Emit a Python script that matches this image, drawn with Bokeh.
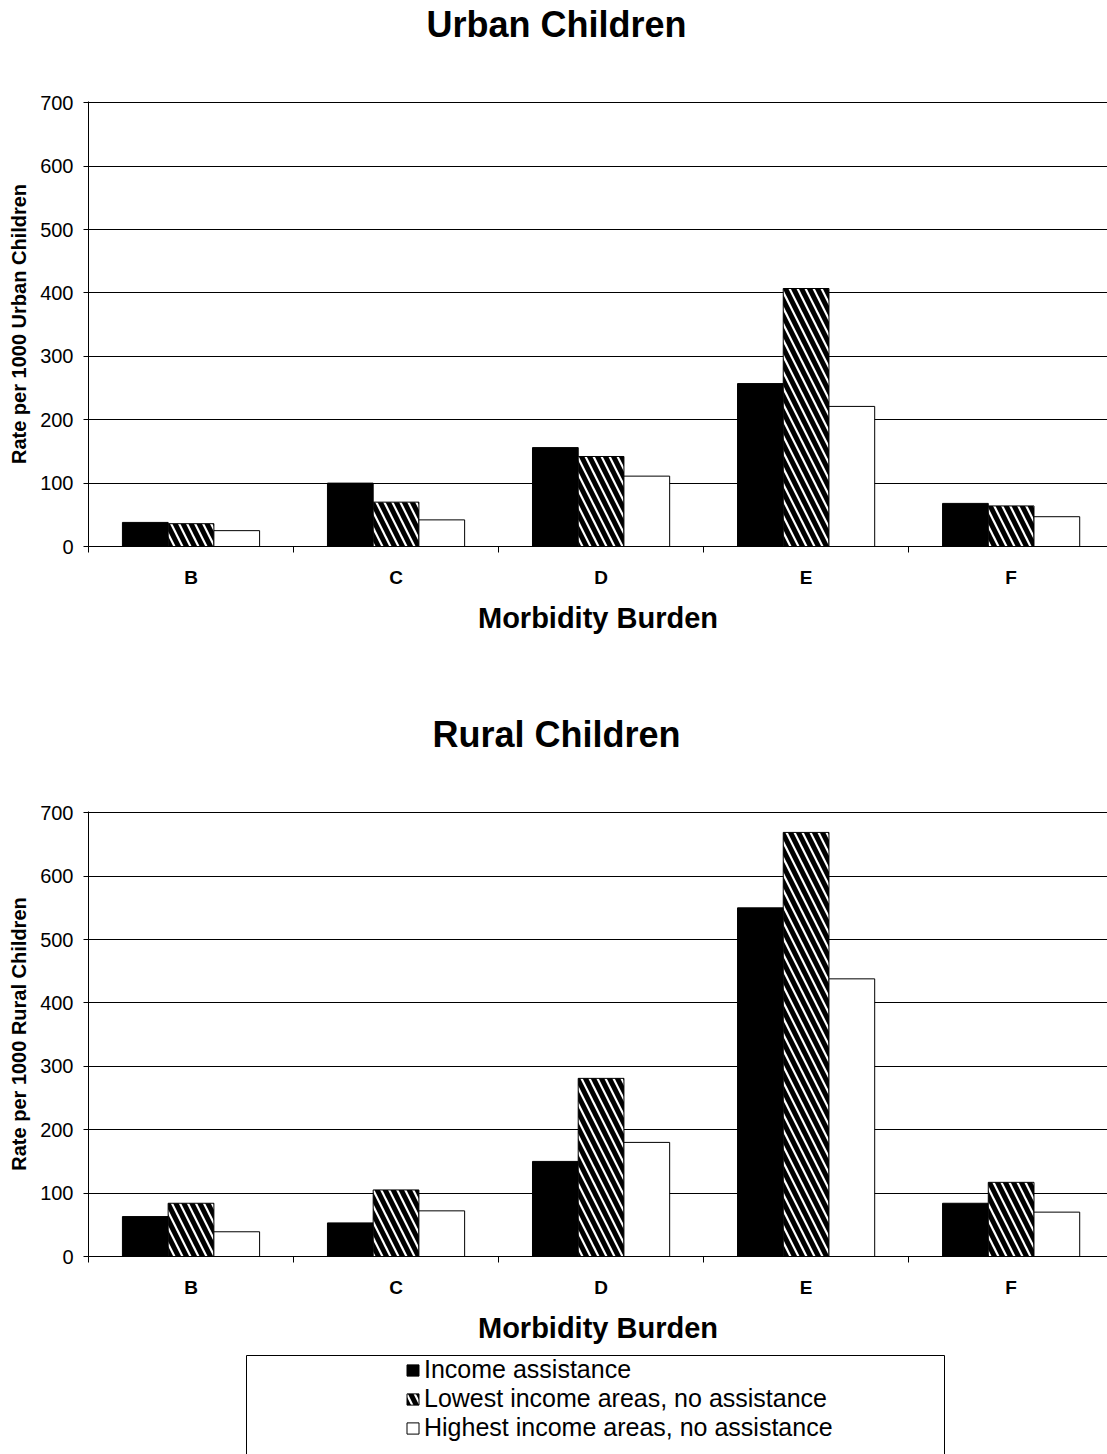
from bokeh.plotting import figure
from bokeh.models import Range1d, FixedTicker, Legend, LegendItem, ColumnDataSource, Spacer
from bokeh.layouts import column, row
from bokeh.embed import file_html
from bokeh.resources import INLINE

# ---------------- data ----------------
categories = ["B", "C", "D", "E", "F"]
series_names = [
    "Income assistance",
    "Lowest income areas, no assistance",
    "Highest income areas, no assistance",
]
urban_income_assistance = [38, 100, 156, 257, 68]
urban_lowest_income = [36, 70, 142, 407, 64]
urban_highest_income = [25, 42, 111, 221, 47]
rural_income_assistance = [63, 53, 150, 550, 84]
rural_lowest_income = [84, 105, 281, 669, 117]
rural_highest_income = [39, 72, 180, 438, 70]
y_ticks = [0, 100, 200, 300, 400, 500, 600, 700]
x_axis_title = "Morbidity Burden"

FONT = "Liberation Sans"
W = 1107
BAR_W = 0.223
OFFSETS = [-BAR_W, 0.0, BAR_W]
STYLES = [
    dict(fill_color="black", line_color="black", line_width=1),
    dict(fill_color="white", line_color="black", line_width=1,
         hatch_pattern="left_diagonal_line", hatch_color="black",
         hatch_weight=5, hatch_scale=16),
    dict(fill_color="white", line_color="black", line_width=1),
]


def make_title(text, height, offset):
    t = figure(width=W, height=height, x_range=Range1d(0, 1), y_range=Range1d(0, 1),
               x_axis_type=None, y_axis_type=None, output_backend="svg",
               toolbar_location=None, min_border=0, title=text)
    t.outline_line_color = None
    t.border_fill_color = "white"
    t.background_fill_color = "white"
    t.title.align = "left"
    t.title.offset = offset
    t.title.vertical_align = "middle"
    t.title.text_font = FONT
    t.title.text_font_style = "bold"
    t.title.text_font_size = "36px"
    t.title.text_color = "black"
    t.title.standoff = 5
    return t


def make_chart(ylabel, series, height, top, bottom):
    p = figure(width=W, height=height,
               x_range=Range1d(0, 4.97), y_range=Range1d(0, 702),
               output_backend="svg", toolbar_location=None,
               min_border_left=88, min_border_right=0,
               min_border_top=top, min_border_bottom=bottom)
    p.outline_line_color = None
    p.background_fill_color = "white"
    p.border_fill_color = "white"

    for vals, off, st in zip(series, OFFSETS, STYLES):
        src = ColumnDataSource(dict(
            x=[i + 0.5 + off for i in range(len(categories))],
            top=vals))
        p.vbar(x="x", top="top", width=BAR_W, bottom=0, source=src, **st)

    # x axis: labels at category centres, ticks at category boundaries
    xa = p.xaxis[0]
    xa.ticker = FixedTicker(ticks=[i + 0.5 for i in range(len(categories))],
                            minor_ticks=list(range(len(categories) + 1)))
    xa.major_label_overrides = {i + 0.5: c for i, c in enumerate(categories)}
    xa.major_tick_line_color = None
    xa.major_tick_out = 0
    xa.major_tick_in = 0
    xa.minor_tick_out = 6
    xa.minor_tick_in = 0
    xa.minor_tick_line_color = "black"
    xa.axis_line_color = "black"
    xa.major_label_standoff = 14
    xa.major_label_text_font = FONT
    xa.major_label_text_font_style = "bold"
    xa.major_label_text_font_size = "19px"
    xa.major_label_text_color = "black"
    xa.axis_label = x_axis_title
    xa.axis_label_text_font = FONT
    xa.axis_label_text_font_style = "bold"
    xa.axis_label_text_font_size = "29px"
    xa.axis_label_text_color = "black"
    xa.axis_label_standoff = 11

    ya = p.yaxis[0]
    ya.ticker = FixedTicker(ticks=y_ticks, minor_ticks=[])
    ya.major_tick_out = 5
    ya.major_tick_in = 0
    ya.major_tick_line_color = "black"
    ya.axis_line_color = "black"
    ya.major_label_standoff = 10
    ya.major_label_text_font = FONT
    ya.major_label_text_font_size = "20px"
    ya.major_label_text_color = "black"
    ya.axis_label = ylabel
    ya.axis_label_text_font = FONT
    ya.axis_label_text_font_style = "bold"
    ya.axis_label_text_font_size = "20px"
    ya.axis_label_text_color = "black"
    ya.axis_label_standoff = 7

    p.xgrid.visible = False
    p.ygrid.ticker = FixedTicker(ticks=y_ticks)
    p.ygrid.grid_line_color = "black"
    p.ygrid.grid_line_width = 1
    return p


title_u = make_title("Urban Children", 55, 338)
urban = make_chart("Rate per 1000 Urban Children",
                   [urban_income_assistance, urban_lowest_income, urban_highest_income],
                   height=655, top=46, bottom=164)
title_r = make_title("Rural Children", 55, 344)
rural = make_chart("Rate per 1000 Rural Children",
                   [rural_income_assistance, rural_lowest_income, rural_highest_income],
                   height=590, top=46, bottom=99)

# legend box
leg = figure(width=699, height=100, x_range=Range1d(0, 1), y_range=Range1d(0, 1),
             x_axis_type=None, y_axis_type=None, output_backend="svg",
             toolbar_location=None, min_border=0)
leg.outline_line_color = "black"
leg.outline_line_width = 1
leg.background_fill_color = "white"
leg.border_fill_color = "white"
items = []
for name, st in zip(series_names, STYLES):
    # one off-screen sample so that the legend swatch gets the style
    r = leg.vbar(x=[5], top=[0.5], width=0.1, **st)
    items.append(LegendItem(label=name, renderers=[r]))
legend = Legend(items=items, location=(159, 13), orientation="vertical",
                border_line_color=None, background_fill_alpha=0,
                padding=0, margin=0, spacing=-3,
                glyph_width=15, glyph_height=14, label_standoff=4,
                label_height=25,
                label_text_font=FONT, label_text_font_size="25px",
                label_text_color="black")
leg.add_layout(legend)

layout = column(title_u, urban, title_r, rural,
                row(Spacer(width=246, height=100), leg, spacing=0),
                spacing=0)
open("out.html", "w").write(file_html(layout, INLINE))
